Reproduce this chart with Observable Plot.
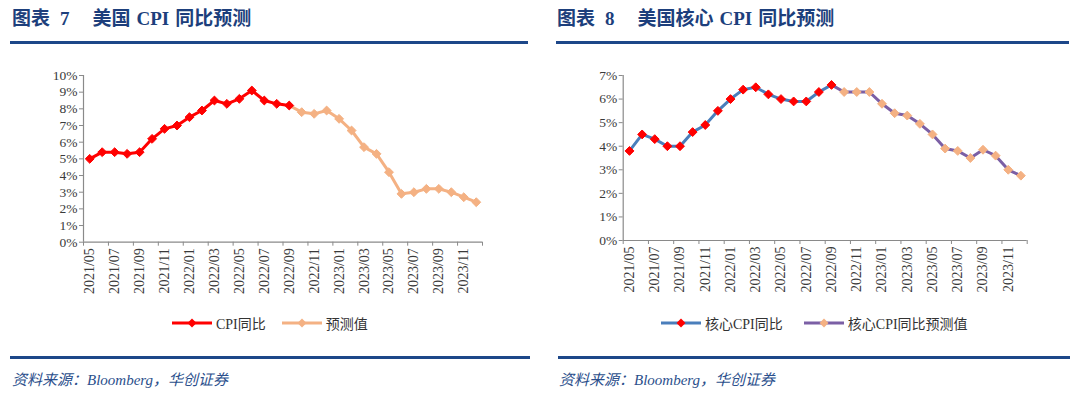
<!DOCTYPE html>
<html><head><meta charset="utf-8">
<script src="https://cdn.jsdelivr.net/npm/d3@7"></script>
<script src="https://cdn.jsdelivr.net/npm/@observablehq/plot@0.6"></script>
<style>
body{margin:0;width:1080px;height:398px;background:#fff;position:relative;overflow:hidden;font-family:"Liberation Serif","Noto Sans CJK SC",serif;}
.title{position:absolute;top:8px;font-size:19px;font-weight:bold;color:#1d3f7c;white-space:pre;line-height:22px;}
.title .g1{display:inline-block;width:10px}
.title .g2{display:inline-block;width:23px}
.title .g3{display:inline-block;width:6px}
.rule{position:absolute;height:3px;background:#1d4789;}
.src{position:absolute;top:368px;font-style:italic;font-size:15px;color:#2b4f8c;white-space:pre;}
.chart{position:absolute;top:60px;}
.legend{position:absolute;top:313px;font-size:14px;color:#333;display:flex;align-items:center;white-space:pre;}
.legend svg{display:block;margin-right:4px;}
</style></head><body>
<div class="title" style="left:12px">图表<span class="g1"></span>7<span class="g2"></span>美国<span class="g3"></span>CPI<span class="g3"></span>同比预测</div>
<div class="rule" style="left:10px;top:41px;width:518px"></div>
<div class="title" style="left:557px">图表<span class="g1"></span>8<span class="g2"></span>美国核心<span class="g3"></span>CPI<span class="g3"></span>同比预测</div>
<div class="rule" style="left:556px;top:41px;width:513px"></div>
<div id="c1" class="chart" style="left:0px"></div>
<div id="c2" class="chart" style="left:540px"></div>
<div id="l1" class="legend" style="left:172px"></div>
<div id="l2" class="legend" style="left:661px"></div>
<div class="rule" style="left:10px;top:356px;width:520px"></div>
<div class="rule" style="left:558px;top:356px;width:512px"></div>
<div class="src" style="left:12px">资料来源：Bloomberg，华创证券</div>
<div class="src" style="left:559px">资料来源：Bloomberg，华创证券</div>
<script>
const months = ["2021/05","2021/06","2021/07","2021/08","2021/09","2021/10","2021/11","2021/12",
  "2022/01","2022/02","2022/03","2022/04","2022/05","2022/06","2022/07","2022/08","2022/09","2022/10","2022/11","2022/12",
  "2023/01","2023/02","2023/03","2023/04","2023/05","2023/06","2023/07","2023/08","2023/09","2023/10","2023/11","2023/12"];
const cpiActual = [5.0,5.4,5.4,5.3,5.4,6.2,6.8,7.0,7.5,7.9,8.5,8.3,8.6,9.1,8.5,8.3,8.2];
const cpiForecast = [7.8,7.7,7.9,7.4,6.7,5.7,5.3,4.2,2.9,3.0,3.2,3.2,3.0,2.7,2.4];
const coreActual = [3.8,4.5,4.3,4.0,4.0,4.6,4.9,5.5,6.0,6.4,6.5,6.2,6.0,5.9,5.9,6.3,6.6];
const coreForecast = [6.3,6.3,6.3,5.8,5.4,5.3,4.95,4.5,3.9,3.8,3.5,3.85,3.6,3.0,2.75];
const cpiTicks = [0,1,2,3,4,5,6,7,8,9,10];
const coreTicks = [0,1,2,3,4,5,6,7];
const labelMonths = months.filter((m, i) => i % 2 === 0);

const RED = "#ff0000", ORANGE = "#f4b183", BLUE = "#4a7ebb", PURPLE = "#7b5fa5";
const AXIS = "#8a8a8a";

function rows(values, start) { return values.map((v, k) => ({i: start + k + 0.5, v})); }

function chart({actual, forecast, yTicks, yMax, marginLeft, marginRight, marginBottom, actualLine, actualDot, fcLine, fcDot}) {
  const n = months.length;
  const a = rows(actual, 0);
  const f = rows(forecast, actual.length);
  const fLine = [a[a.length - 1], ...f];
  const tickPos = labelMonths.map(m => months.indexOf(m) + 0.5);
  return Plot.plot({
    width: 540, height: 250,
    marginLeft, marginRight, marginTop: 15, marginBottom,
    style: {fontFamily: "'Liberation Serif','Noto Sans CJK SC',serif", fontSize: "13px", color: "#3a3a3a", background: "transparent"},
    x: {type: "linear", domain: [0, n]},
    y: {domain: [0, yMax]},
    marks: [
      Plot.axisY({ticks: yTicks, tickFormat: d => d + "%", tickSize: 4, tickPadding: 2, stroke: AXIS, label: null, fontSize: 13.5}),
      Plot.axisX({ticks: d3.range(0, n + 1, 2), tickFormat: () => "", tickSize: 4, stroke: AXIS, label: null}),
      Plot.axisX({ticks: tickPos, tickFormat: d => months[Math.round(d - 0.5)], tickSize: 0, tickPadding: 6, tickRotate: -90, label: null, fontSize: 14}),
      Plot.ruleX([0], {stroke: AXIS, strokeWidth: 1.2}),
      Plot.ruleY([0], {stroke: AXIS, strokeWidth: 1.2}),
      Plot.line(fLine, {x: "i", y: "v", stroke: fcLine, strokeWidth: 3}),
      Plot.line(a, {x: "i", y: "v", stroke: actualLine, strokeWidth: 3}),
      Plot.dot(f, {x: "i", y: "v", symbol: "diamond2", r: 4, fill: fcDot, stroke: fcDot, strokeWidth: 1}),
      Plot.dot(a, {x: "i", y: "v", symbol: "diamond2", r: 4, fill: actualDot, stroke: actualDot, strokeWidth: 1})
    ]
  });
}

document.getElementById("c1").append(chart({
  actual: cpiActual, forecast: cpiForecast, yTicks: cpiTicks, yMax: 10,
  marginLeft: 83, marginRight: 58, marginBottom: 68.3,
  actualLine: RED, actualDot: RED, fcLine: ORANGE, fcDot: ORANGE
}));
document.getElementById("c2").append(chart({
  actual: coreActual, forecast: coreForecast, yTicks: coreTicks, yMax: 7,
  marginLeft: 82.7, marginRight: 53.3, marginBottom: 70,
  actualLine: BLUE, actualDot: RED, fcLine: PURPLE, fcDot: ORANGE
}));

function swatch(line, dot) {
  return `<svg width="40" height="12"><line x1="0" y1="6" x2="40" y2="6" stroke="${line}" stroke-width="3"/><polygon points="20,1.5 24.5,6 20,10.5 15.5,6" fill="${dot}"/></svg>`;
}
document.getElementById("l1").innerHTML =
  swatch(RED, RED) + `<span>CPI同比</span><span style="display:inline-block;width:16px"></span>` +
  swatch(ORANGE, ORANGE) + `<span>预测值</span>`;
document.getElementById("l2").innerHTML =
  swatch(BLUE, RED) + `<span>核心CPI同比</span><span style="display:inline-block;width:21px"></span>` +
  swatch(PURPLE, ORANGE) + `<span>核心CPI同比预测值</span>`;
</script>
</body></html>
